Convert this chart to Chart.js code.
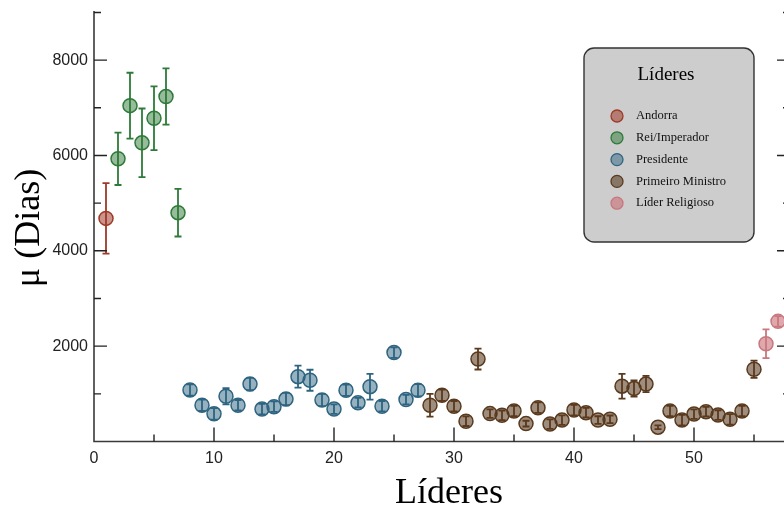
<!DOCTYPE html>
<html>
<head>
<meta charset="utf-8">
<script src="https://cdn.jsdelivr.net/npm/chart.js@4.4.1/dist/chart.umd.min.js"></script>
<style>
  html, body { margin:0; padding:0; background:#fff; overflow:hidden; }
  #wrap { width:800px; height:511px; position:relative; }
</style>
</head>
<body>
<div id="wrap"><canvas id="leaderChart"></canvas></div>
<script>
// =============================
// DATA
// =============================
const andorraX = [1];
const andorraY = [4680];
const andorraErr = [740];

const reiX = [2, 3, 4, 5, 6, 7];
const reiY = [5930, 7045, 6265, 6780, 7235, 4800];
const reiErr = [550, 690, 720, 670, 590, 500];

const presX = [8, 9, 10, 11, 12, 13, 14, 15, 16, 17, 18, 19, 20, 21, 22, 23, 24, 25, 26, 27];
const presY = [1080, 760, 580, 950, 760, 1205, 680, 730, 890, 1360, 1285, 870, 680, 1075, 815, 1150, 740, 1865, 880, 1075];
const presErr = [120, 120, 120, 170, 110, 130, 110, 110, 130, 230, 220, 130, 100, 120, 100, 270, 110, 110, 100, 130];

const pmX = [28, 29, 30, 31, 32, 33, 34, 35, 36, 37, 38, 39, 40, 41, 42, 43, 44, 45, 46, 47, 48, 49, 50, 51, 52, 53, 54, 55];
const pmY = [760, 970, 740, 425, 1730, 585, 550, 640, 375, 710, 365, 450, 660, 605, 450, 465, 1160, 1110, 1205, 300, 640, 450, 575, 625, 555, 465, 640, 1515];
const pmErr = [240, 120, 110, 100, 220, 90, 100, 110, 60, 110, 100, 100, 110, 100, 80, 80, 260, 170, 170, 40, 110, 110, 100, 100, 100, 110, 110, 180];

const relX = [56, 57];
const relY = [2050, 2520];
const relErr = [300, 110];

const xTicks = [0, 10, 20, 30, 40, 50];
const yTicks = [2000, 4000, 6000, 8000];

const serif = '"Liberation Serif", "Times New Roman", serif';
const sans = '"Liberation Sans", Arial, sans-serif';

function pts(xs, ys) {
    return xs.map((x, i) => ({ x: x, y: ys[i] }));
}

function series(label, xs, ys, errs, fill, line) {
    return {
        label: label,
        data: pts(xs, ys),
        errs: errs,
        backgroundColor: fill,
        borderColor: line,
        pointRadius: 7,
        pointBorderWidth: 1.5,
        showLine: false
    };
}

// =============================
// PLUGINS
// =============================
// error bars, drawn over the markers like in the original
const errorBars = {
    id: 'errorBars',
    afterDatasetsDraw(chart) {
        const c = chart.ctx;
        const xs = chart.scales.x, ys = chart.scales.y;
        c.save();
        chart.data.datasets.forEach(ds => {
            c.strokeStyle = ds.borderColor;
            c.lineWidth = 1.8;
            ds.data.forEach((p, i) => {
                const px = xs.getPixelForValue(p.x);
                const top = ys.getPixelForValue(p.y + ds.errs[i]);
                const bot = ys.getPixelForValue(p.y - ds.errs[i]);
                c.beginPath();
                c.moveTo(px, top); c.lineTo(px, bot);
                c.moveTo(px - 3.5, top); c.lineTo(px + 3.5, top);
                c.moveTo(px - 3.5, bot); c.lineTo(px + 3.5, bot);
                c.stroke();
            });
        });
        c.restore();
    }
};

// spines + inward ticks (matplotlib style)
const frame = {
    id: 'frame',
    afterDraw(chart) {
        const c = chart.ctx, a = chart.chartArea;
        const xs = chart.scales.x, ys = chart.scales.y;
        c.save();
        c.strokeStyle = '#3a3a3a';
        c.lineWidth = 1.6;
        c.beginPath();
        c.moveTo(a.left, a.top); c.lineTo(a.left, a.bottom); c.lineTo(a.right, a.bottom);
        c.moveTo(a.right, a.top); c.lineTo(a.right, a.bottom);
        c.stroke();
        c.lineWidth = 1.4;
        c.strokeStyle = '#222';
        c.beginPath();
        for (let v = 1000; v <= 9000; v += 1000) {
            const py = ys.getPixelForValue(v);
            const len = v % 2000 === 0 ? 13 : 7;
            c.moveTo(a.left, py); c.lineTo(a.left + len, py);
            c.moveTo(a.right, py); c.lineTo(a.right - len, py);
        }
        for (let v = 5; v <= 55; v += 5) {
            const px = xs.getPixelForValue(v);
            const len = v % 10 === 0 ? 14 : 7;
            c.moveTo(px, a.bottom); c.lineTo(px, a.bottom - len);
        }
        c.stroke();

        // axis titles
        c.fillStyle = '#000';
        c.textAlign = 'center';
        c.textBaseline = 'middle';
        c.font = '36px ' + serif;
        c.fillText('Líderes', 449, 494);
        c.translate(30, 228);
        c.rotate(-Math.PI / 2);
        c.fillText('μ (Dias)', 0, 0);
        c.restore();
    }
};

// legend box placed inside the plot
const legendBox = {
    id: 'legendBox',
    afterDraw(chart) {
        const c = chart.ctx;
        const x = 584, y = 48, w = 170, h = 194;
        c.save();
        c.beginPath();
        c.roundRect(x, y, w, h, 10);
        c.fillStyle = '#cdcdcd';
        c.fill();
        c.strokeStyle = '#333';
        c.lineWidth = 1.4;
        c.stroke();

        c.fillStyle = '#000';
        c.textAlign = 'center';
        c.textBaseline = 'middle';
        c.font = '19px ' + serif;
        c.fillText('Líderes', 666, 75);

        c.textAlign = 'left';
        c.font = '12.5px ' + serif;
        chart.data.datasets.forEach((ds, i) => {
            const ry = 116 + i * 21.8;
            c.beginPath();
            c.arc(617, ry, 6, 0, Math.PI * 2);
            c.fillStyle = ds.backgroundColor;
            c.fill();
            c.strokeStyle = ds.borderColor;
            c.lineWidth = 1.3;
            c.stroke();
            c.fillStyle = '#111';
            c.fillText(ds.label, 636, ry);
        });
        c.restore();
    }
};

// =============================
// CHART
// =============================
const ctx = document.getElementById('leaderChart');
new Chart(ctx, {
    type: 'scatter',
    data: {
        datasets: [
            series('Andorra', andorraX, andorraY, andorraErr, 'rgba(160,58,40,0.55)', '#9e3a28'),
            series('Rei/Imperador', reiX, reiY, reiErr, 'rgba(46,122,56,0.5)', '#2e7a38'),
            series('Presidente', presX, presY, presErr, 'rgba(46,100,128,0.5)', '#2e6480'),
            series('Primeiro Ministro', pmX, pmY, pmErr, 'rgba(80,50,20,0.55)', '#5a3a1e'),
            series('Líder Religioso', relX, relY, relErr, 'rgba(200,110,118,0.6)', '#c8787e')
        ]
    },
    options: {
        responsive: true,
        maintainAspectRatio: false,
        animation: false,
        events: [],
        layout: { padding: { top: 11, right: 10, left: 0, bottom: 0 } },
        plugins: {
            legend: { display: false },
            tooltip: { enabled: false }
        },
        scales: {
            x: {
                type: 'linear',
                min: 0,
                max: 58,
                border: { display: false },
                grid: { display: false, drawTicks: false },
                afterFit: s => { s.height = 69.5; s.paddingLeft = 0; s.paddingRight = 0; },
                afterBuildTicks: s => { s.ticks = xTicks.map(v => ({ value: v })); },
                ticks: {
                    padding: 7,
                    color: '#222',
                    font: { family: sans, size: 16 },
                    callback: v => v
                }
            },
            y: {
                min: 0,
                max: 9030,
                border: { display: false },
                grid: { display: false, drawTicks: false },
                afterFit: s => { s.width = 94; s.paddingTop = 0; s.paddingBottom = 0; },
                afterBuildTicks: s => { s.ticks = yTicks.map(v => ({ value: v })); },
                ticks: {
                    padding: 6,
                    color: '#222',
                    font: { family: sans, size: 16 },
                    callback: v => v
                }
            }
        }
    },
    plugins: [errorBars, frame, legendBox]
});
</script>
</body>
</html>
